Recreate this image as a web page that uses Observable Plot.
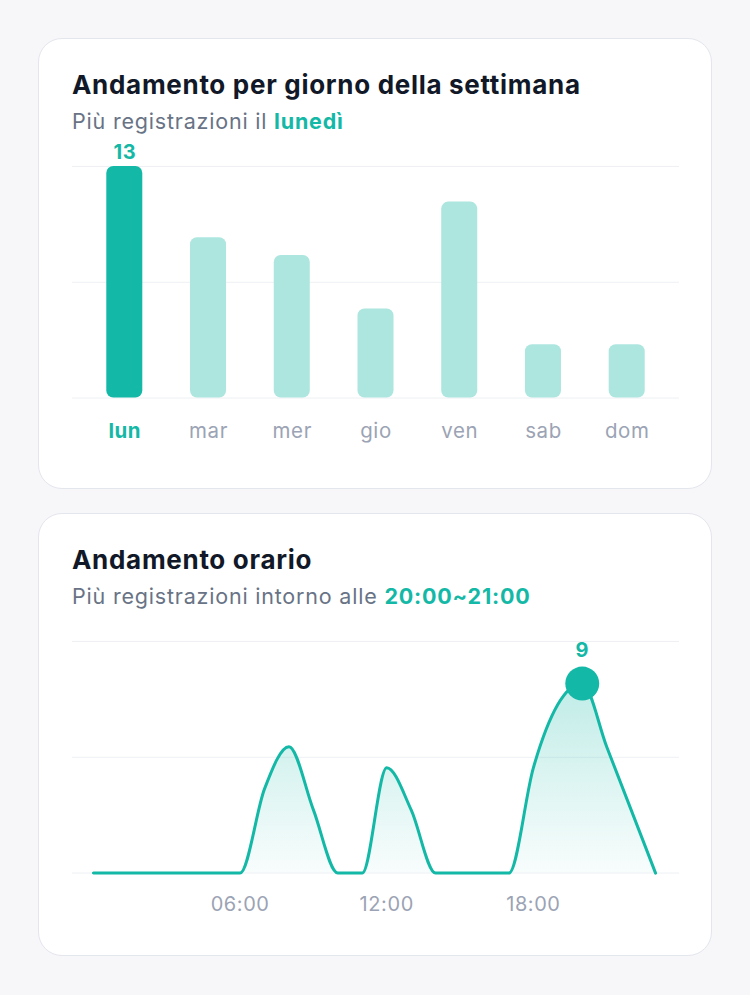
<!DOCTYPE html>
<html>
<head>
<meta charset="utf-8">
<script src="https://cdn.jsdelivr.net/npm/d3@7"></script>
<script src="https://cdn.jsdelivr.net/npm/@observablehq/plot@0.6"></script>
<style>
  html, body { margin: 0; padding: 0; }
  body { background: #f7f7f9; font-family: Inter, "Noto Sans", sans-serif; width: 750px; height: 995px; position: relative; overflow: hidden; }
  .card { position: absolute; left: 38px; width: 674px; background: #fff; border: 1px solid #e4e6ee; border-radius: 24px; box-sizing: border-box; }
  .title { position: absolute; left: 33px; top: 33px; font-size: 26px; line-height: 26px; font-weight: 700; color: #111827; white-space: nowrap; letter-spacing: 0.7px; }
  .sub { position: absolute; left: 33px; top: 72px; font-size: 21.5px; line-height: 21.5px; font-weight: 400; color: #687386; white-space: nowrap; letter-spacing: 0.8px; }
  .sub b { color: #14b8a6; font-weight: 700; }
  .chart { position: absolute; left: -1px; top: 91px; }
</style>
</head>
<body>
<div class="card" id="card1" style="top:38px;height:451px;">
  <div class="title">Andamento per giorno della settimana</div>
  <div class="sub">Più registrazioni il <b>lunedì</b></div>
  <div class="chart" id="chart1"></div>
</div>
<div class="card" id="card2" style="top:513px;height:443px;">
  <div class="title">Andamento orario</div>
  <div class="sub">Più registrazioni intorno alle <b>20:00~21:00</b></div>
  <div class="chart" id="chart2"></div>
</div>
<script>
// ---- data ----
const days = ["lun", "mar", "mer", "gio", "ven", "sab", "dom"];
const dayCounts = [13, 9, 8, 5, 11, 3, 3];

const hours = [0, 1, 2, 3, 4, 5, 6, 7, 8, 9, 10, 11, 12, 13, 14, 15, 16, 17, 18, 19, 20, 21, 22, 23];
const hourCounts = [0, 0, 0, 0, 0, 0, 0, 4, 6, 3, 0, 0, 5, 3, 0, 0, 0, 0, 5, 8, 9, 6, 3, 0];
const hourTickValues = [6, 12, 18];
const hourTickLabels = ["06:00", "12:00", "18:00"];

const dayMax = 13;
const hourMax = 11;

// ---- style ----
const teal = "#14b8a6";
const tealLight = "#ade6df";
const gridColor = "#eef0f4";
const labelGray = "#9ba3b4";

const dayData = days.map((d, i) => ({day: d, count: dayCounts[i]}));
const topDay = dayData.reduce((a, b) => (b.count > a.count ? b : a));
const hourData = hours.map((h, i) => ({hour: h, count: hourCounts[i]}));
const topHour = hourData.reduce((a, b) => (b.count > a.count ? b : a));
const tickData = hourTickValues.map((v, i) => ({hour: v, label: hourTickLabels[i]}));

const W = 674, mL = 34, mR = 32, mT = 36, plotH = 232;
const svgStyle = {fontFamily: "Inter, 'Noto Sans', sans-serif", background: "transparent", overflow: "visible", letterSpacing: "0.6px"};

// ---- chart 1: weekdays ----
const chart1 = Plot.plot({
  width: W,
  height: mT + plotH + 60,
  marginLeft: mL,
  marginRight: mR,
  marginTop: mT,
  marginBottom: 60,
  style: svgStyle,
  x: {type: "band", domain: days, paddingInner: 0.57, paddingOuter: 0.41, round: false, axis: null},
  y: {domain: [0, dayMax], axis: null},
  color: {type: "identity"},
  marks: [
    Plot.ruleY([0, dayMax / 2, dayMax], {stroke: gridColor, strokeWidth: 1}),
    Plot.barY(dayData, {x: "day", y: "count", fill: d => (d.day === topDay.day ? teal : tealLight), rx: 7}),
    Plot.text([topDay], {x: "day", y: "count", text: d => String(d.count), dy: -14, fill: teal, fontSize: 20, fontWeight: 700}),
    Plot.text(dayData.filter(d => d.day === topDay.day), {x: "day", text: "day", frameAnchor: "bottom", dy: 40, fill: teal, fontSize: 20.5, fontWeight: 700}),
    Plot.text(dayData.filter(d => d.day !== topDay.day), {x: "day", text: "day", frameAnchor: "bottom", dy: 40, fill: labelGray, fontSize: 20.5, fontWeight: 400})
  ]
});
document.getElementById("chart1").appendChild(chart1);

// ---- chart 2: hours ----
const chart2 = Plot.plot({
  width: W,
  height: mT + plotH + 60,
  marginLeft: mL,
  marginRight: mR,
  marginTop: mT,
  marginBottom: 60,
  style: svgStyle,
  x: {domain: [0, 23], insetLeft: 21, insetRight: 24, axis: null},
  y: {domain: [0, hourMax], axis: null},
  marks: [
    Plot.ruleY([0, hourMax / 2, hourMax], {stroke: gridColor, strokeWidth: 1}),
    Plot.areaY(hourData, {x: "hour", y: "count", curve: "monotone-x", fill: "url(#hourGrad)"}),
    Plot.lineY(hourData, {x: "hour", y: "count", curve: "monotone-x", stroke: teal, strokeWidth: 3, strokeLinejoin: "round", strokeLinecap: "round"}),
    Plot.dot([topHour], {x: "hour", y: "count", r: 17, fill: teal, stroke: "none"}),
    Plot.text([topHour], {x: "hour", y: "count", text: d => String(d.count), dy: -33, fill: teal, fontSize: 20, fontWeight: 700}),
    Plot.text(tickData, {x: "hour", text: "label", frameAnchor: "bottom", dy: 38, fill: labelGray, fontSize: 20, fontWeight: 400})
  ]
});
const defs = d3.select(chart2).insert("defs", ":first-child");
const grad = defs.append("linearGradient")
  .attr("id", "hourGrad")
  .attr("gradientUnits", "userSpaceOnUse")
  .attr("x1", 0).attr("x2", 0)
  .attr("y1", mT).attr("y2", mT + plotH);
grad.append("stop").attr("offset", "0%").attr("stop-color", teal).attr("stop-opacity", 0.32);
grad.append("stop").attr("offset", "100%").attr("stop-color", teal).attr("stop-opacity", 0.03);
document.getElementById("chart2").appendChild(chart2);
</script>
</body>
</html>
